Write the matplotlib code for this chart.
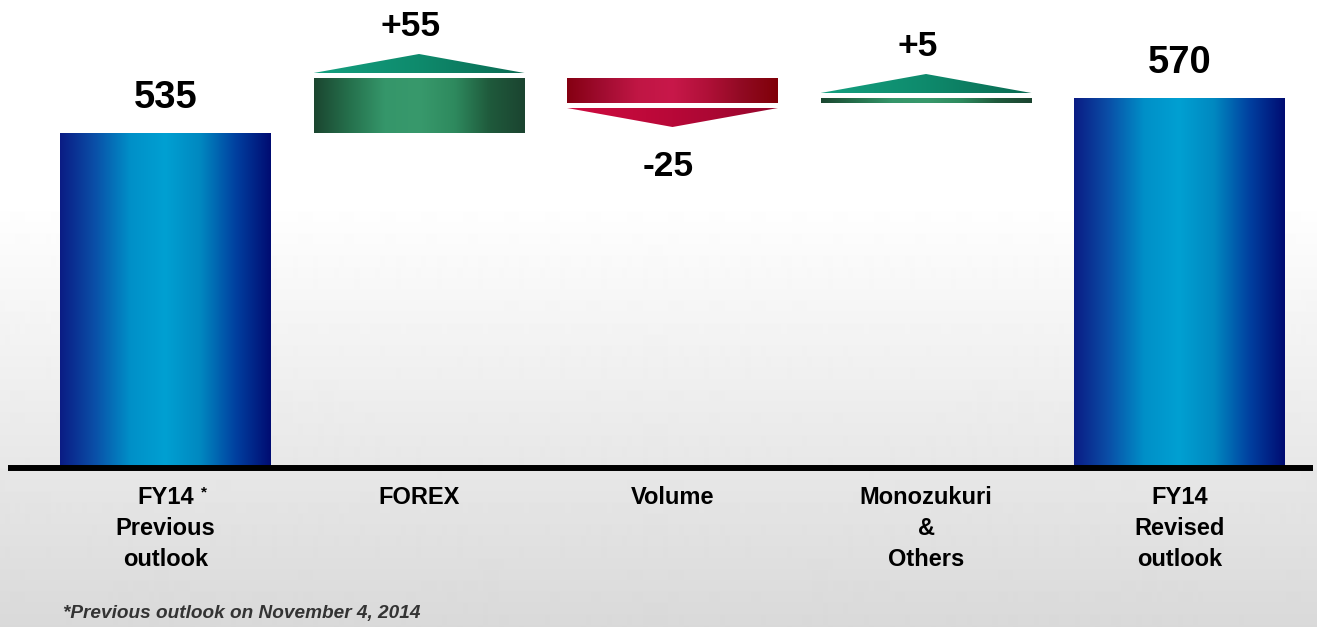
import numpy as np
import matplotlib.pyplot as plt
from matplotlib.colors import LinearSegmentedColormap
from matplotlib.patches import Rectangle, Polygon

# values
categories = ["FY14\nPrevious\noutlook", "FOREX", "Volume",
              "Monozukuri\n&\nOthers", "FY14\nRevised\noutlook"]
previous_outlook = 535
changes = [55, -25, 5]
revised_outlook = 570
axis_floor = 200
footnote = "*Previous outlook on November 4, 2014"

plt.rcParams['font.family'] = ['Liberation Sans', 'DejaVu Sans']

blue = ['#0b1c84', '#0a50a8', '#0090c8', '#00a0d2', '#0088c0', '#0040a0', '#000c72']
green_bar = ['#1b4630', '#25704c', '#35966a', '#38996c', '#2e8a5e', '#1f5a3c', '#1b4430']
green_tri = ['#14a080', '#0e8a6c', '#0a6a52']
red_bar = ['#850012', '#a00c30', '#c01644', '#c8184a', '#b01038', '#900a22', '#800008']
red_tri = ['#d00c40', '#b80838', '#96062c']


def gradient_fill(ax, patch, extent, colors):
    # horizontal gradient clipped to the patch
    patch.set_facecolor('none')
    patch.set_edgecolor('none')
    ax.add_patch(patch)
    cmap = LinearSegmentedColormap.from_list('g', colors)
    im = ax.imshow(np.linspace(0, 1, 256)[None, :], cmap=cmap, extent=extent,
                   aspect='auto', interpolation='bilinear', zorder=3)
    im.set_clip_path(patch)


fig = plt.figure(figsize=(13.17, 6.27), dpi=100)

# background: white at the top fading to light grey
bg = fig.add_axes([0, 0, 1, 1], zorder=0)
bg.set_axis_off()
rows = np.arange(627)
shade = np.where(rows < 200, 1.0, 1.0 - (rows - 200) / 427 * (38 / 255))
bg.imshow(shade[:, None], cmap='gray', vmin=0, vmax=1, aspect='auto',
          extent=[0, 1, 0, 1], interpolation='bilinear')

ax = fig.add_axes([0, 0, 1, 1], zorder=1)
ax.set_facecolor('none')

width = 0.832
gap = 5
tri_h = 19
shift = -0.032  # change labels sit a little left of the bar centre

# totals
for x, v in [(0, previous_outlook), (4, revised_outlook)]:
    r = Rectangle((x - width / 2, axis_floor), width, v - axis_floor)
    gradient_fill(ax, r, [x - width / 2, x + width / 2, axis_floor, v], blue)
    ax.text(x, v + 25, str(v), ha='center', va='baseline', fontsize=27.5,
            fontweight='bold', zorder=5)

# changes
level = previous_outlook
for i, d in enumerate(changes):
    x = i + 1
    lo, hi = min(level, level + d), max(level, level + d)
    r = Rectangle((x - width / 2, lo), width, hi - lo)
    if d > 0:
        gradient_fill(ax, r, [x - width / 2, x + width / 2, lo, hi], green_bar)
        base = hi + gap
        tip = base + tri_h
        tri = Polygon([(x - width / 2, base), (x, tip), (x + width / 2, base)], closed=True)
        gradient_fill(ax, tri, [x - width / 2, x + width / 2, base, tip], green_tri)
        ax.text(x + shift, tip + 18, f"{d:+d}", ha='center', va='baseline', fontsize=25.5,
                fontweight='bold', zorder=5)
    else:
        gradient_fill(ax, r, [x - width / 2, x + width / 2, lo, hi], red_bar)
        base = lo - gap
        tip = base - tri_h
        tri = Polygon([(x - width / 2, base), (x, tip), (x + width / 2, base)], closed=True)
        gradient_fill(ax, tri, [x - width / 2, x + width / 2, tip, base], red_tri)
        ax.text(x + shift / 2, tip - 49, f"{d:+d}", ha='center', va='baseline', fontsize=25.5,
                fontweight='bold', zorder=5)
    level += d

# baseline
ax.axhline(axis_floor, xmin=8 / 1317, xmax=1313 / 1317, color='black', lw=4.3,
           solid_capstyle='butt', zorder=6)

# category labels, one line at a time
for x, cat in enumerate(categories):
    for k, line in enumerate(cat.split('\n')):
        ax.text(x, axis_floor - 36 - 31 * k, line, ha='center', va='baseline',
                fontsize=17, fontweight='bold', zorder=5)
ax.text(0.15, axis_floor - 28, '*', ha='center', va='baseline', fontsize=11,
        fontweight='bold', zorder=5)

fig.text(63 / 1317, 1 - 618 / 627, footnote, ha='left', va='baseline', fontsize=13.7,
         fontweight='bold', fontstyle='italic', color='#333333')

ax.set_xlim(-0.6529, 4.5424)
ax.set_ylim(41, 668)
ax.set_axis_off()

fig.savefig('out.png', dpi=100)
